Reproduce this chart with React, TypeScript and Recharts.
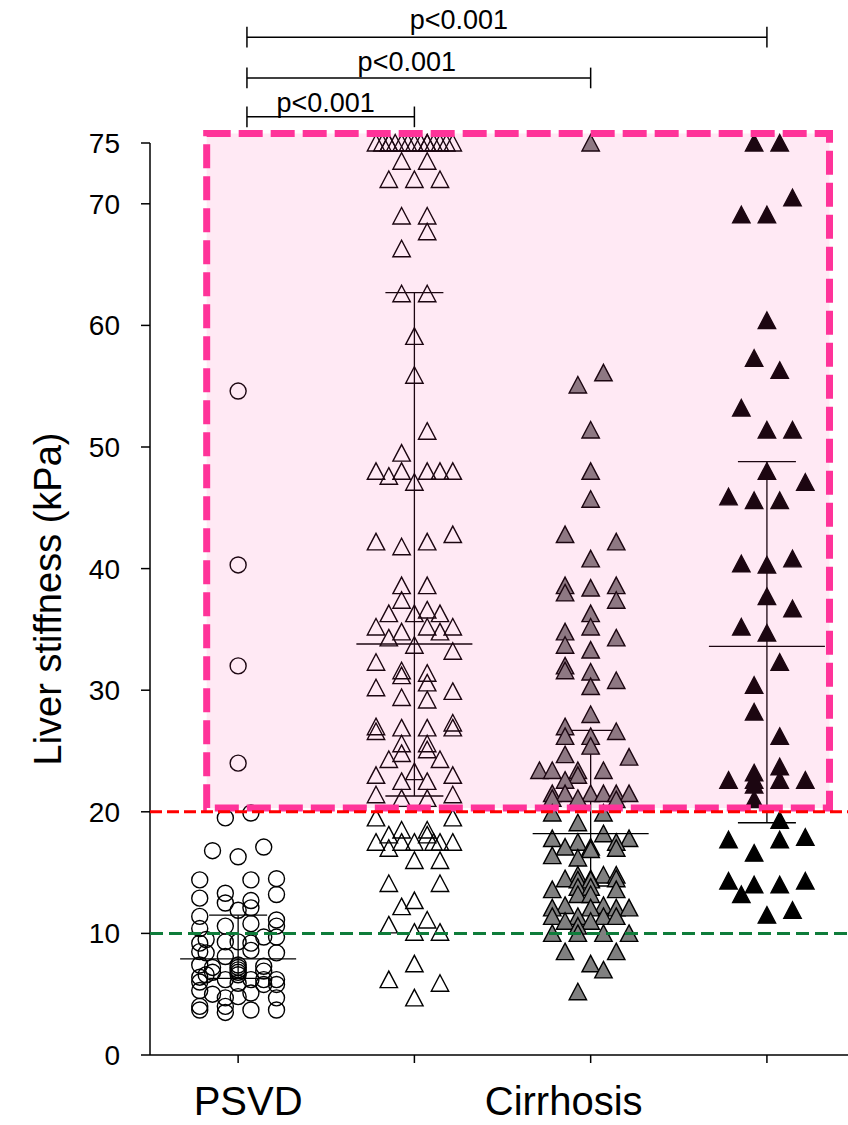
import {
  ErrorBar,
  ReferenceArea,
  ReferenceLine,
  Scatter,
  ScatterChart,
  XAxis,
  YAxis,
} from "recharts";

const FONT = "'Liberation Sans', Arial, sans-serif";

// group positions on the x axis and their labels
const groups = [1, 2, 3, 4];
const categoryLabels = ["PSVD", "", "Cirrhosis", ""];
const yTicks = [0, 10, 20, 30, 40, 50, 60, 70, 75];

// [jitter column, liver stiffness kPa]
const psvd: [number, number][] = [
  [0, 54.6], [0, 40.3], [0, 32.0], [0, 24.0],
  [-1, 19.5], [1, 19.9], [-2, 16.8], [0, 16.3], [2, 17.1],
  [-3, 14.4], [-3, 12.9], [-3, 11.4], [-3, 10.4], [-3, 9.2], [-3, 8.5], [-3, 7.4],
  [-3, 6.4], [-3, 6.0], [-3, 5.3], [-3, 4.0], [-3, 3.7],
  [-2.5, 9.5], [-2.5, 8.4], [-2, 7.2], [-2, 6.8], [-2, 5.0], [-2.5, 6.6],
  [-1, 13.3], [-1, 12.5], [-1, 10.6], [-1, 9.3], [-1, 8.1], [-1, 6.2], [-1, 4.7], [-1, 4.0], [-1, 3.5],
  [0, 11.9], [0, 9.3], [0, 7.4], [0, 7.2], [0, 7.0], [0, 6.8], [0, 6.6], [0, 5.9], [0, 4.8],
  [1, 14.4], [1, 12.7], [1, 12.1], [1, 10.8], [1, 9.2], [1, 8.6], [1, 6.2], [1, 5.1], [1, 3.7],
  [2, 9.7], [2, 7.3], [2, 6.9], [2, 6.2], [2, 5.8],
  [3, 14.5], [3, 13.2], [3, 11.1], [3, 10.6], [3, 9.7], [3, 8.4], [3, 6.2], [3, 5.8], [3, 4.7], [3, 3.7],
];

const cirrhosisOpen: [number, number][] = [
  [-3, 75], [-2.5, 75], [-2, 75], [-1.5, 75], [-1, 75], [-0.5, 75], [0, 75], [0.5, 75],
  [1, 75], [1.5, 75], [2, 75], [2.5, 75], [3, 75], [-2, 75], [1, 75],
  [-1, 73.5], [1, 73.5], [-2, 72.0], [0, 72.0], [2, 72.0],
  [-1, 69.0], [1, 69.0], [1, 67.7], [-1, 66.3], [-1, 62.6], [1, 62.6],
  [0, 59.1], [0, 55.9], [1, 51.3], [-1, 49.5],
  [-3, 48.0], [-2, 47.6], [-1, 48.0], [1, 48.0], [2, 48.0], [3, 48.0], [0, 47.1],
  [-3, 42.2], [-1, 41.8], [1, 42.2], [3, 42.8],
  [-1, 38.6], [1, 38.6], [-1, 37.4],
  [-2, 36.3], [0, 36.3], [2, 36.3], [1, 36.6],
  [-3, 35.2], [1, 35.2], [3, 35.2], [-1, 34.8], [2, 34.8], [-2, 34.3], [0, 33.7], [3, 33.2],
  [-3, 32.3], [-1, 31.6], [-1, 31.2], [1, 31.4], [1, 30.6], [-3, 30.2], [3, 29.9], [-1, 29.4], [1, 29.2],
  [-3, 27.0], [-3, 26.6], [-1, 26.9], [1, 26.9], [3, 27.3], [3, 26.9],
  [-1, 25.6], [1, 25.6], [1, 25.1], [-1, 24.8], [-2, 24.3], [2, 24.3],
  [0, 23.3], [-3, 23.0], [3, 23.0], [-1, 22.5], [1, 22.5],
  [-3, 21.4], [3, 21.4], [-1, 21.1], [1, 21.1],
  [-3, 19.5], [3, 19.5], [-1, 18.5], [1, 18.5], [-2, 18.1], [1, 18.1],
  [-3, 17.5], [-1, 17.5], [0, 17.5], [1.5, 17.5], [2, 17.5], [3, 17.5], [-2, 17.0],
  [0, 16.0], [2, 16.0], [-2, 14.1], [2, 14.1], [0, 12.7], [-1, 12.2], [1, 11.1], [-2, 10.7],
  [0, 10.1], [2, 10.1], [0, 7.5], [-2, 6.2], [2, 5.9], [0, 4.7],
];

const cirrhosisGrey: [number, number][] = [
  [0, 75], [1, 56.1], [-1, 55.1], [0, 51.4], [0, 48.0], [0, 45.7],
  [-2, 42.8], [2, 42.2], [0, 40.8],
  [-2, 38.6], [-2, 38.0], [0, 38.4], [2, 38.6], [2, 37.4], [0, 36.3], [0, 35.2],
  [-2, 34.8], [2, 34.3], [-2, 33.7], [0, 33.3], [-2, 32.0], [-2, 31.6], [0, 31.5],
  [2, 30.8], [0, 30.3], [0, 28.0], [-2, 27.0], [2, 26.6], [-2, 26.2], [0, 26.2],
  [0, 25.4], [-2, 24.7], [3, 24.5],
  [-4, 23.4], [-3, 23.4], [-1, 23.4], [1, 23.4], [-1, 23.0], [-2, 22.6],
  [-3, 21.5], [-2, 21.5], [0, 21.5], [1, 21.5], [2, 21.5], [3, 21.5],
  [-3, 21.1], [-1, 21.1], [2, 21.0],
  [-3, 19.9], [1, 19.9], [-1, 19.1], [1, 18.2], [-3, 17.8], [3, 17.8],
  [-1, 17.5], [2, 17.5], [-2, 17.1], [0, 17.1], [2, 17.0], [0, 16.9], [-3, 16.4], [-1, 16.2],
  [-1, 14.8], [1, 14.8], [2, 14.8], [-2, 14.5], [0, 14.5], [2, 14.5], [-1, 14.4], [0, 14.4],
  [-1, 13.8], [0, 13.8], [-3, 13.6], [2, 13.6], [-1, 13.2], [0, 13.2],
  [-2, 12.3], [1, 12.3], [-3, 12.1], [0, 12.1], [2, 12.1], [3, 12.1],
  [-3, 11.4], [-1, 11.4], [1, 11.4], [2, 11.4], [-2, 11.0], [0, 11.0], [-1, 10.6],
  [-3, 10.0], [-1, 10.0], [1, 10.0], [3, 10.0],
  [-2, 8.5], [2, 8.5], [0, 7.5], [1, 7.0], [-1, 5.2],
];

const cirrhosisBlack: [number, number][] = [
  [-1, 75], [1, 75], [2, 70.5], [-2, 69.1], [0, 69.1],
  [0, 60.4], [-1, 57.3], [1, 56.3], [-2, 53.2], [0, 51.4], [2, 51.4],
  [0, 48.0], [3, 47.1], [-3, 45.9], [-1, 45.6], [1, 45.6],
  [2, 40.8], [-2, 40.4], [0, 40.3], [0, 37.7], [2, 36.7], [-2, 35.2], [0, 34.7],
  [1, 32.3], [-1, 30.4], [-1, 28.2], [1, 26.2], [1, 23.7], [-1, 23.2],
  [-3, 22.6], [-1, 22.6], [1, 22.6], [3, 22.6], [-1, 22.2], [-1, 21.0], [1, 19.3],
  [-3, 17.7], [1, 17.7], [3, 17.9], [-1, 16.6],
  [-3, 14.3], [3, 14.3], [-1, 14.0], [1, 14.0], [-2, 13.2], [2, 11.9], [0, 11.5],
];

// median and interquartile range per group
const medians = [7.9, 33.8, 18.2, 33.6];
const q1 = [6.3, 21.3, 13.9, 19.1];
const q3 = [11.5, 62.7, 26.7, 48.8];

const comparisons = [
  { from: 1, to: 2, label: "p<0.001" },
  { from: 1, to: 3, label: "p<0.001" },
  { from: 1, to: 4, label: "p<0.001" },
];

const SLOT = 0.0726;
const toPoints = (group: number, rows: [number, number][]) =>
  rows.map(([col, v]) => ({ x: group + col * SLOT, y: v }));

const medianData = groups.map((g, i) => ({
  x: g,
  y: medians[i],
  iqr: [medians[i] - q1[i], q3[i] - medians[i]],
}));

const OpenCircle = (p: any) => (
  <circle cx={p.cx} cy={p.cy} r={8} fill="none" stroke="#000" strokeWidth={1.4} />
);

const triangle = (fill: string) => (p: any) => (
  <path
    d={`M${p.cx},${p.cy - 8.5}L${p.cx + 8.7},${p.cy + 8}L${p.cx - 8.7},${p.cy + 8}Z`}
    fill={fill}
    stroke="#000"
    strokeWidth={1.4}
  />
);

const MedianBar = (p: any) => (
  <line x1={p.cx - 58} x2={p.cx + 58} y1={p.cy} y2={p.cy} stroke="#000" strokeWidth={1.3} />
);

const labelShift = [10, 0, -27, 0];
const CategoryTick = (p: any) => {
  const i = p.payload.value - 1;
  return (
    <text
      x={p.x + labelShift[i]}
      y={p.y}
      dy="0.71em"
      textAnchor="middle"
      fontSize={40}
      fontFamily={FONT}
      fill="#000"
    >
      {categoryLabels[i]}
    </text>
  );
};

const bracketLevels = [77.15, 80.35, 83.7];
const bracketTextShift = [-5, -12, -48];
const bracketLift = [5, 7, 8];

export default function App() {
  return (
    <div style={{ position: "absolute", left: 0, top: 0 }}>
      <ScatterChart
        width={848}
        height={1125}
        margin={{ top: 143, right: 0, bottom: 0, left: 0 }}
        style={{ overflow: "visible" }}
      >
        <XAxis
          type="number"
          dataKey="x"
          domain={[0.5, 4.46]}
          ticks={groups}
          interval={0}
          height={70}
          tickSize={8}
          tickMargin={24}
          tick={<CategoryTick />}
          axisLine={{ stroke: "#000", strokeWidth: 1.5 }}
          tickLine={{ stroke: "#000", strokeWidth: 1.5 }}
        />
        <YAxis
          type="number"
          dataKey="y"
          domain={[0, 75]}
          ticks={yTicks}
          interval={0}
          width={150}
          tickSize={9}
          tickMargin={21}
          tick={{ fill: "#000", fontSize: 28, fontFamily: FONT }}
          axisLine={{ stroke: "#000", strokeWidth: 1.5 }}
          tickLine={{ stroke: "#000", strokeWidth: 1.5 }}
          label={{
            value: "Liver stiffness (kPa)",
            angle: -90,
            position: "insideLeft",
            offset: 48,
            style: { textAnchor: "middle", fontSize: 38, fontFamily: FONT, fill: "#000" },
          }}
        />

        <Scatter data={toPoints(1, psvd)} shape={OpenCircle} isAnimationActive={false} />
        <Scatter data={toPoints(2, cirrhosisOpen)} shape={triangle("none")} isAnimationActive={false} />
        <Scatter data={toPoints(3, cirrhosisGrey)} shape={triangle("#808080")} isAnimationActive={false} />
        <Scatter data={toPoints(4, cirrhosisBlack)} shape={triangle("#000")} isAnimationActive={false} />
        <Scatter data={medianData} shape={MedianBar} isAnimationActive={false}>
          <ErrorBar dataKey="iqr" direction="y" width={29} stroke="#000" strokeWidth={1.3} />
        </Scatter>

        <ReferenceArea
          x1={0.8216}
          x2={4.355}
          y1={20.31}
          y2={75.78}
          ifOverflow="visible"
          fill="#FF3399"
          fillOpacity={0.11}
          stroke="#FF3399"
          strokeWidth={7}
          strokeDasharray="24 8"
          zIndex={700}
        />
        <ReferenceLine y={10} stroke="#0E7C3A" strokeWidth={3} strokeDasharray="13 6" zIndex={710} />
        <ReferenceLine y={20} stroke="#FF0000" strokeWidth={3} strokeDasharray="12 5" zIndex={710} />

        {comparisons.map((c, i) => {
          const lvl = bracketLevels[i];
          const x0 = c.from + 0.05;
          return [
            <ReferenceLine
              key={`b${i}`}
              segment={[{ x: x0, y: lvl }, { x: c.to, y: lvl }]}
              ifOverflow="visible"
              stroke="#000"
              strokeWidth={1.5}
              label={(p: any) => {
                const vb = p.viewBox || { x: 0, y: 0, width: 0 };
                return (
                  <text
                    x={vb.x + vb.width / 2 + bracketTextShift[i]}
                    y={vb.y - bracketLift[i]}
                    textAnchor="middle"
                    fontSize={27}
                    fontFamily={FONT}
                    fill="#000"
                  >
                    {c.label}
                  </text>
                );
              }}
            />,
            <ReferenceLine
              key={`l${i}`}
              segment={[{ x: x0, y: lvl - 0.85 }, { x: x0, y: lvl + 0.85 }]}
              ifOverflow="visible"
              stroke="#000"
              strokeWidth={1.5}
            />,
            <ReferenceLine
              key={`r${i}`}
              segment={[{ x: c.to, y: lvl - 0.85 }, { x: c.to, y: lvl + 0.85 }]}
              ifOverflow="visible"
              stroke="#000"
              strokeWidth={1.5}
            />,
          ];
        })}
      </ScatterChart>
    </div>
  );
}
